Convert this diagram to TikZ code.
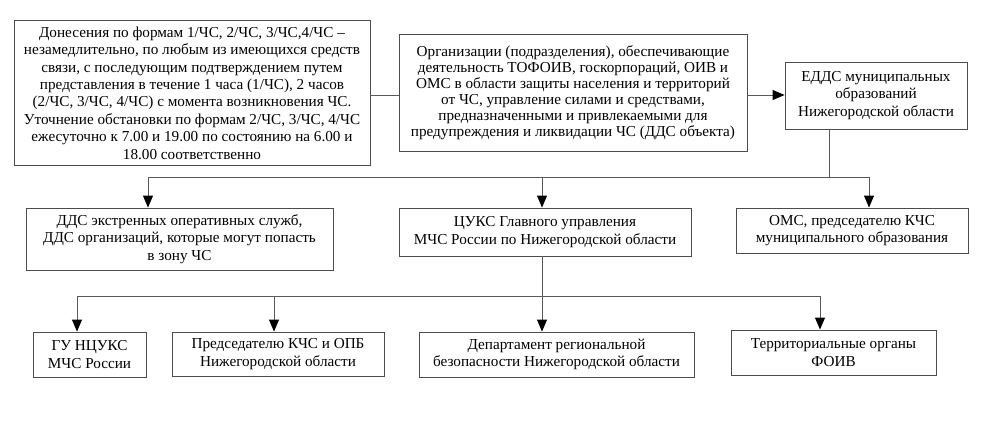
\documentclass[tikz,border=0pt]{standalone}
\usepackage{fontspec}
\setmainfont{Liberation Serif}
\usetikzlibrary{arrows.meta}
\tikzset{
  blk/.style={draw=black!70, line width=0.9pt, fill=white, inner sep=0pt, align=center, anchor=center,
    text=black, font=\fontsize{15.2}{17.2}\selectfont},
  conn/.style={draw=black!65, line width=0.9pt},
  arr/.style={conn, -{Triangle[length=12pt,width=10pt,color=black,fill=black]}},
}
\begin{document}
\begin{tikzpicture}[x=1pt,y=-1pt]
\useasboundingbox (0,0) rectangle (987,420);
\fill[white] (0,0) rectangle (987,420);

\node[blk, font=\fontsize{15.2}{17.4}\selectfont, minimum width=356pt, minimum height=145pt] (rep) at (192,93)
 {Донесения по формам 1/ЧС, 2/ЧС, 3/ЧС,4/ЧС –\\
  незамедлительно, по любым из имеющихся средств\\
  связи, с последующим подтверждением путем\\
  представления в течение 1 часа (1/ЧС), 2 часов\\
  (2/ЧС, 3/ЧС, 4/ЧС) с момента возникновения ЧС.\\
  Уточнение обстановки по формам 2/ЧС, 3/ЧС, 4/ЧС\\
  ежесуточно к 7.00 и 19.00 по состоянию на 6.00 и\\
  18.00 соответственно};

\node[blk, font=\fontsize{15.2}{16}\selectfont, minimum width=348pt, minimum height=117pt] (org) at (573,92.5)
 {Организации (подразделения), обеспечивающие\\
  деятельность ТОФОИВ, госкорпораций, ОИВ и\\
  ОМС в области защиты населения и территорий\\
  от ЧС, управление силами и средствами,\\
  предназначенными и привлекаемыми для\\
  предупреждения и ликвидации ЧС (ДДС объекта)};

\node[blk, minimum width=182pt, minimum height=67pt] (edds) at (876,95.5)
 {ЕДДС муниципальных\\ образований\\ Нижегородской области};

\node[blk, minimum width=307pt, minimum height=62pt] (dds) at (179.5,239)
 {ДДС экстренных оперативных служб,\\ ДДС организаций, которые могут попасть\\ в зону ЧС};

\node[blk, minimum width=292pt, minimum height=48pt] (cuks) at (545,232)
 {ЦУКС Главного управления\\ МЧС России по Нижегородской области};

\node[blk, minimum width=232pt, minimum height=45pt] (oms) at (852,230.5)
 {ОМС, председателю КЧС\\ муниципального образования};

\node[blk, minimum width=113pt, minimum height=45pt] (gu) at (89.5,354.5)
 {ГУ НЦУКС\\ МЧС России};

\node[blk, minimum width=212pt, minimum height=44pt] (pred) at (278,354)
 {Председателю КЧС и ОПБ\\ Нижегородской области};

\node[blk, minimum width=275pt, minimum height=45pt] (dep) at (556.5,354.5)
 {Департамент региональной\\ безопасности Нижегородской области};

\node[blk, minimum width=205pt, minimum height=45pt] (terr) at (833.5,352.5)
 {Территориальные органы\\ ФОИВ};

% bus coordinates
\coordinate (b1) at (829,177);
\coordinate (b1l) at (148,177);
\coordinate (b1m) at (542,177);
\coordinate (b1r) at (869,177);
\coordinate (b2) at (542,296);
\coordinate (b2a) at (77,296);
\coordinate (b2b) at (274,296);
\coordinate (b2c) at (542,296);
\coordinate (b2d) at (820,296);

% top row
\draw[conn] (rep.east |- 0,95) -- (org.west |- 0,95);
\draw[arr] (org.east |- 0,95) -- (edds.west |- 0,95);

% EDDS to second row
\draw[conn] (b1 |- edds.south) -- (b1);
\draw[conn] (b1l) -- (b1r);
\draw[arr] (b1l) -- (b1l |- dds.north);
\draw[arr] (b1m) -- (b1m |- cuks.north);
\draw[arr] (b1r) -- (b1r |- oms.north);

% CUKS to third row
\draw[conn] (b2 |- cuks.south) -- (b2);
\draw[conn] (b2a) -- (b2d);
\draw[arr] (b2a) -- (b2a |- gu.north);
\draw[arr] (b2b) -- (b2b |- pred.north);
\draw[arr] (b2c) -- (b2c |- dep.north);
\draw[arr] (b2d) -- (b2d |- terr.north);
\end{tikzpicture}
\end{document}
